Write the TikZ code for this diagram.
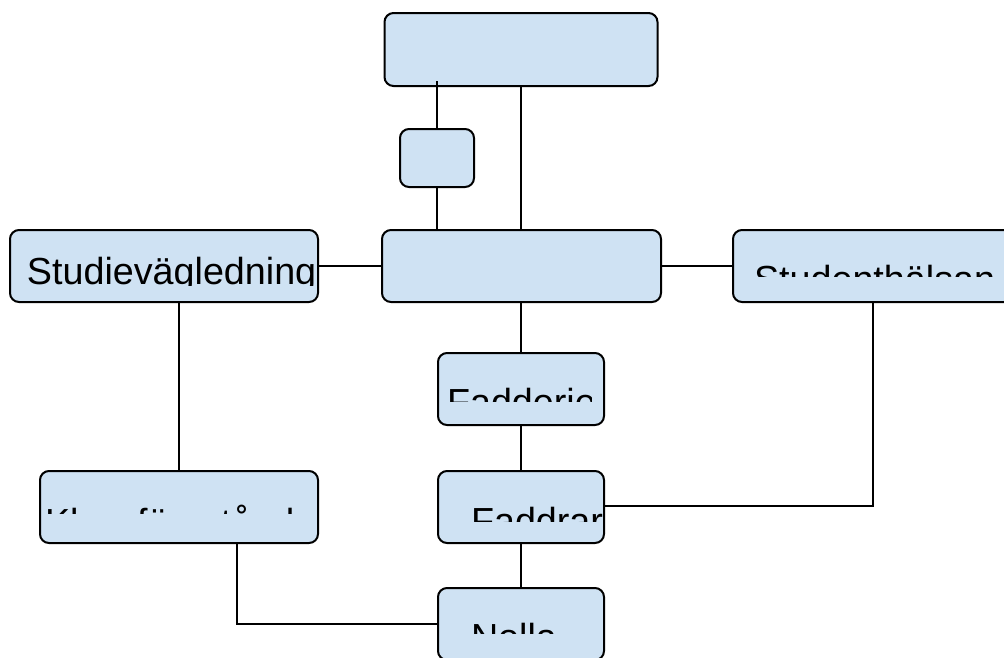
\documentclass[tikz,border=0pt]{standalone}
\usepackage{fontspec}
\setmainfont{Liberation Sans}
\usetikzlibrary{calc}

\begin{document}
\begin{tikzpicture}[x=1pt,y=-1pt,line width=2pt,
    block/.style={draw,fill=boxblue,line width=2pt,rounded corners=9pt,inner sep=0pt},
    lbl/.style={anchor=base west,inner sep=0pt,font=\fontsize{37.7}{40}\selectfont}]
      \definecolor{boxblue}{RGB}{207,226,243}
      \clip (0,0) rectangle (1004,657);

      \node[block,minimum width=273pt,minimum height=73pt] (top)       at (521,49.5)  {};
      \node[block,minimum width=74pt,minimum height=58pt]  (small)     at (437,158)   {};
      \node[block,minimum width=279pt,minimum height=72pt] (mid)       at (521.5,266) {};
      \node[block,minimum width=308pt,minimum height=72pt] (studie)    at (164,266)   {};
      \node[block,minimum width=280pt,minimum height=72pt] (halsan)    at (873,266)   {};
      \node[block,minimum width=166pt,minimum height=72pt] (fadderiet) at (521,389)   {};
      \node[block,minimum width=278pt,minimum height=72pt] (klass)     at (179,507)   {};
      \node[block,minimum width=166pt,minimum height=72pt] (faddrar)   at (521,507)   {};
      \node[block,minimum width=166pt,minimum height=72pt] (nolla)     at (521,624)   {};

      \draw ([yshift=6pt]small.north |- top.south) -- (small.north);
      \draw (small.south) -- (small.south |- mid.north);
      \draw (top.south) -- (top.south |- mid.north);
      \draw (studie.east) -- (mid.west);
      \draw (mid.east) -- (halsan.west);
      \draw (klass.north |- studie.south) -- (klass.north);
      \draw (fadderiet.north |- mid.south) -- (fadderiet.north);
      \draw (fadderiet.south) -- (faddrar.north);
      \draw (faddrar.south) -- (nolla.north);
      \draw (halsan.south) |- ([yshift=1pt]faddrar.east);
      \draw ([xshift=58pt]klass.south) |- (nolla.west);

      % texts cut off by their frames
      \begin{scope}
        \clip (10,230) rectangle (318,285.5);
        \node[lbl] (t-studie) at (26,284) {Studievägledning};
      \end{scope}
      \begin{scope}
        \clip (733,230) rectangle (1004,276);
        \node[lbl] (t-halsan) at (753,292) {Studenthälsan};
      \end{scope}
      \begin{scope}
        \clip (438,353) rectangle (591,401);
        \node[lbl] (t-fadderiet) at (446,415) {Fadderiet};
      \end{scope}
      \begin{scope}
        \clip (438,471) rectangle (603,521);
        \node[lbl] (t-faddrar) at (470,534) {Faddrar};
      \end{scope}
      \begin{scope}
        \clip (438,588) rectangle (604,633);
        \node[lbl] (t-nolla) at (470,650) {Nolla};
      \end{scope}
      \begin{scope}
        \clip (40,471) rectangle (318,513);
        \node[lbl] (t-klass) at (44,535) {Klassföreståndare};
      \end{scope}
\end{tikzpicture}
\end{document}
